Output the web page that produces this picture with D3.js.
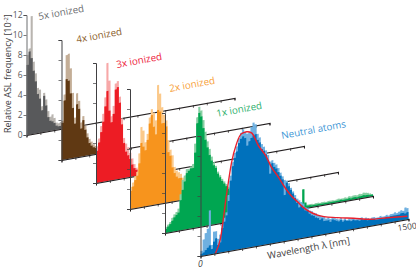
<!DOCTYPE html>
<html>
<head>
<meta charset="utf-8">
<script src="https://cdn.jsdelivr.net/npm/d3@7"></script>
<style>
  html, body { margin: 0; padding: 0; background: #fff; }
  text { font-family: "Open Sans", sans-serif; }
</style>
</head>
<body>
<div id="chart"></div>
<script>
// 100 bins of 15 nm, values in units of 10^-2
var binWidth = 15;
var yTicks = [0, 2, 4, 6, 8, 10, 12];
var xTicks = d3.range(0, 1501, 100);

var names = ['5x ionized', '4x ionized', '3x ionized', '2x ionized', '1x ionized', 'Neutral atoms'];

var main5x = [7.0, 8.3, 7.6, 6.3, 5.2, 3.9, 3.4, 2.2, 3.6, 2.6,
              1.4, 1.0, .9, .7, .4, .3, .3, .2, .2, .2];
var peak5x = [8.0, 8.6, 11.8, 7.2, 6.0, 4.5, 4.3, 2.6, 3.9, 3.2,
              2.0, 1.4, 1.6, 1.2, .7, .6, .7, .5, .5, .4];

var main4x = [3.7, 5.9, 8.0, 7.8, 6.5, 5.0, 3.4, 5.3, 4.8, 2.8,
              3.6, 2.6, 1.8, 1.2, .9, .7, .6, .5, .4, .3];
var peak4x = [3.9, 6.5, 10.4, 10.5, 9.0, 6.5, 4.0, 6.4, 5.6, 3.4,
              4.0, 3.0, 2.2, 1.6, 1.3, 1.0, .8, .7, .6, .5];

var main3x = [3.2, 4.0, 5.0, 6.0, 7.5, 9.0, 7.0, 5.8, 6.6, 9.0,
              9.2, 7.6, 5.4, 3.5, 2.6, 2.2, 1.8, 1.2, .8, .6];
var peak3x = [3.6, 4.4, 5.6, 6.8, 8.4, 11.8, 10.0, 6.4, 7.4, 9.6,
              9.8, 8.2, 6.0, 4.0, 3.4, 3.0, 2.4, 1.8, 1.2, .8];

var main2x = [1.8, 2.2, 2.8, 3.2, 4.4, 6.4, 6.0, 5.6, 6.6, 8.2,
              9.0, 7.8, 7.0, 9.4, 9.2, 8.0, 8.0, 7.6, 5.0, 4.6,
              3.4, 2.8, 2.4, 2.2, 2.2, 1.7, 1.4, 1.2, 1.2, 1.1,
              1.0, .9, .9, .8, .8, .7, .7, .6, .6, .5,
              .5, .5, .4, .4, .4, .3, .3, .3, .2, .2];
var peak2x = [2.2, 2.6, 3.2, 3.6, 5.4, 8.0, 7.6, 6.4, 7.2, 8.8,
              9.6, 9.2, 8.4, 11.9, 11.0, 9.6, 8.8, 8.2, 6.2, 5.2,
              4.6, 3.4, 3.0, 2.8, 2.6, 2.2, 2.0, 1.8, 1.6, 1.5,
              1.4, 1.3, 1.2, 1.1, 1.0, .9, .9, .8, .8, .7,
              .7, .6, .6, .5, .5, .4, .4, .4, .3, .3];

var main1x = [.4, .6, .8, 1.1, 1.4, 1.6, 1.8, 3.0, 4.0, 4.8,
              5.6, 5.8, 6.0, 6.0, 7.5, 10.4, 11.4, 11.0, 9.8, 8.6,
              7.8, 7.0, 6.4, 5.9, 5.6, 5.0, 4.6, 4.2, 3.9, 3.6,
              3.3, 3.1, 2.9, 2.7, 2.5, 2.3, 2.1, 2.0, 1.8, 1.7,
              1.6, 1.5, 1.4, 1.3, 1.2, 1.1, 1.0, .9, .8, .8,
              .7, .7, .6, .6, .5, .5, .5, .4, .4, .4,
              .3, .3, .3, 1.0, .4, .3, 1.9, .5, .2, .2,
              .15, .15, .15, .15, .15, .15, .15, .15, .15, .15,
              .15, .15, .15, .15, .2, .15, .15, .15, .2, .15,
              .2, .2, .15, .2, .2, .25, .2, .2, .15, .15];
var peak1x = [.6, .8, 1.0, 1.4, 1.7, 1.9, 2.2, 3.6, 5.0, 5.4,
              6.0, 6.0, 6.2, 6.4, 8.4, 11.0, 12.0, 11.6, 10.6, 9.4,
              8.4, 7.6, 6.8, 6.2, 5.8, 5.2, 4.8, 4.4, 4.1, 3.8,
              3.5, 3.3, 3.1, 2.9, 2.7, 2.5, 2.3, 2.2, 2.0, 1.9,
              1.8, 1.7, 1.6, 1.5, 1.4, 1.3, 1.2, 1.1, 1.0, 1.0,
              .9, .9, .8, .8, .7, .7, .6, .6, .5, .5,
              .4, .4, .4, 1.0, .5, .4, 1.9, .6, .3, .3,
              .3, .25, .3, .3, .25, .3, .3, .25, .3, .3,
              .3, .25, .3, .35, .3, .3, .35, .3, .4, .35,
              .4, .4, .35, .45, .4, .5, .45, .4, .3, .2];

var main0x = [.2, .3, .5, .7, .9, .5, 1.2, 1.5, .8, 1.0,
              2.4, 3.0, 3.6, 5.0, 7.0, 8.4, 9.2, 9.8, 10.6, 11.0,
              11.2, 11.0, 10.2, 10.6, 10.9, 11.1, 11.2, 10.6, 10.3, 9.6,
              9.4, 9.0, 8.4, 7.0, 8.0, 7.6, 7.4, 7.0, 6.6, 6.2,
              4.6, 5.8, 5.4, 5.0, 4.6, 4.1, 3.6, 3.1, 3.3, 3.0,
              2.7, 2.6, 2.3, 2.1, 2.0, 1.8, 1.7, 1.5, 1.6, 1.3,
              1.3, 1.3, 1.1, 1.3, 1.2, 1.1, 1.0, 1.1, .9, 1.0,
              .9, .9, .8, .9, .8, .8, .7, .8, .7, .7,
              .6, .6, .6, .6, .5, .5, .6, .5, .5, .6,
              .5, .6, .6, .6, .6, .6, .7, .7, .6, .7];
var peak0x = [.5, 1.6, 2.2, 2.6, 4.4, .9, 2.2, 2.2, 1.4, 1.8,
              2.8, 3.4, 3.9, 5.6, 7.5, 8.8, 9.7, 10.3, 11.1, 11.6,
              11.9, 11.6, 11.4, 11.5, 12.0, 12.4, 12.2, 11.2, 10.8, 10.1,
              9.8, 9.4, 8.9, 8.2, 8.3, 8.0, 7.8, 7.4, 6.9, 6.5,
              6.1, 6.0, 5.7, 5.2, 4.8, 4.4, 4.0, 3.8, 3.6, 3.4,
              3.0, 2.9, 2.6, 2.5, 2.3, 2.2, 2.0, 1.9, 1.8, 1.7,
              1.5, 1.6, 1.4, 1.5, 1.4, 1.3, 1.2, 1.3, 1.1, 1.2,
              1.0, 1.1, 1.0, 1.0, .9, .9, .9, 1.0, .8, .9,
              .8, .7, .8, .8, .7, .7, .8, .7, .7, .8,
              .7, .8, .8, .9, .8, .9, 1.0, .9, 1.2, 1.1];

// red curve over the neutral spectrum
var curveNm = [108, 144, 187, 224, 260, 296, 332, 368, 418, 469, 512, 562, 598, 649, 699, 743, 844, 988, 1103, 1226, 1348, 1492];
var curveVal = [0, 1.4, 5.6, 8.8, 10.6, 11.5, 11.6, 11.4, 10.0, 8.9, 7.6, 6.5, 5.6, 4.5, 3.7, 3.0, 2.0, 1.4, 1.06, .65, .5, .3];

var series = [
  { name: names[0], main: main5x, peak: peak5x, dark: '#58595b', light: '#b9b5b0', text: '#6d6e71' },
  { name: names[1], main: main4x, peak: peak4x, dark: '#603913', light: '#c4ae97', text: '#8b5e2b' },
  { name: names[2], main: main3x, peak: peak3x, dark: '#ed1c24', light: '#f7a8a8', text: '#ed1c3c' },
  { name: names[3], main: main2x, peak: peak2x, dark: '#f7941d', light: '#fbc98a', text: '#f7a13a' },
  { name: names[4], main: main1x, peak: peak1x, dark: '#00a651', light: '#86cfa2', text: '#2fb06e' },
  { name: names[5], main: main0x, peak: peak0x, dark: '#0071bc', light: '#6fb0e0', text: '#3f97d6' }
];

var width = 416, height = 270;
var panelW = 208, panelH = 120, slope = -37 / 208;
var origins = [[26.5, 135], [61.5, 160], [96, 183], [130, 209], [165, 233], [200.5, 256]];
var labelPos = [[39, 20], [77, 43], [117, 68], [170, 92], [217, 117], [282, 139]];

var svg = d3.select('#chart').append('svg')
    .attr('width', width)
    .attr('height', height);

var x = d3.scaleLinear().domain([0, 1500]).range([0, panelW]);
var y = d3.scaleLinear().domain([0, 12]).range([0, -panelH]);

var area = d3.area()
    .curve(d3.curveStepAfter)
    .x(function(d, i) { return x(i * binWidth); })
    .y0(0)
    .y1(function(d) { return y(d); });

var redLine = d3.line()
    .curve(d3.curveMonotoneX)
    .x(function(d) { return x(d[0]); })
    .y(function(d) { return y(d[1]); });

series.forEach(function(s, i) {
  var o = origins[i];
  // vertical stays vertical, baseline climbs to the right
  var g = svg.append('g')
      .attr('transform', 'matrix(1,' + slope + ',0,1,' + o[0] + ',' + o[1] + ')');

  g.append('path').attr('fill', s.light).attr('d', area(s.peak.concat([0])));
  g.append('path').attr('fill', s.dark).attr('d', area(s.main.concat([0])));

  if (i == 5) {
    g.append('path')
        .attr('fill', 'none')
        .attr('stroke', '#e8202e')
        .attr('stroke-width', 1.4)
        .attr('d', redLine(d3.zip(curveNm, curveVal)));
  }

  var xAxis = g.append('g')
      .attr('class', 'x-axis')
      .call(d3.axisBottom(x).tickValues(xTicks).tickSize(2.5).tickFormat(''));
  xAxis.select('.domain').attr('stroke', '#231f20').attr('stroke-width', 1);
  xAxis.selectAll('.tick line').attr('stroke', '#231f20').attr('stroke-width', .7);

  var yGroup = svg.append('g')
      .attr('transform', 'translate(' + o[0] + ',' + o[1] + ')');
  var yAxis = yGroup.call(d3.axisLeft(y).tickValues(yTicks).tickSize(3).tickFormat(i == 0 ? d3.format('d') : ''));
  yAxis.select('.domain').attr('stroke', i == 0 ? '#6d6e71' : '#414042').attr('stroke-width', 1);
  yAxis.selectAll('.tick line').attr('stroke', '#414042').attr('stroke-width', .7);
  yAxis.selectAll('.tick text')
      .attr('fill', '#58595b')
      .attr('font-size', 8.5)
      .attr('x', -4)
      .style('font-family', '"Open Sans", sans-serif');

  svg.append('text')
      .attr('transform', 'translate(' + labelPos[i][0] + ',' + labelPos[i][1] + ') rotate(-10.5)')
      .attr('fill', s.text)
      .attr('font-size', 9.8)
      .text(s.name);
});

// y title
var yTitle = svg.append('text')
    .attr('transform', 'translate(11,133) rotate(-90)')
    .attr('fill', '#414042')
    .attr('font-size', 9);
yTitle.append('tspan').text('Relative ASL frequency [10');
yTitle.append('tspan').attr('font-size', 5.8).attr('dy', -3).text('-2');
yTitle.append('tspan').attr('dy', 3).text(']');

svg.append('text')
    .attr('transform', 'translate(268,259) rotate(-10.5)')
    .attr('fill', '#414042')
    .attr('font-size', 9.6)
    .text('Wavelength \u03bb [nm]');

svg.append('text')
    .attr('transform', 'translate(198,267)')
    .attr('fill', '#414042')
    .attr('font-size', 8.5)
    .attr('font-style', 'italic')
    .text('0');

svg.append('text')
    .attr('transform', 'translate(398,231) rotate(-8)')
    .attr('fill', '#414042')
    .attr('font-size', 8.4)
    .text('1500');
</script>
</body>
</html>
